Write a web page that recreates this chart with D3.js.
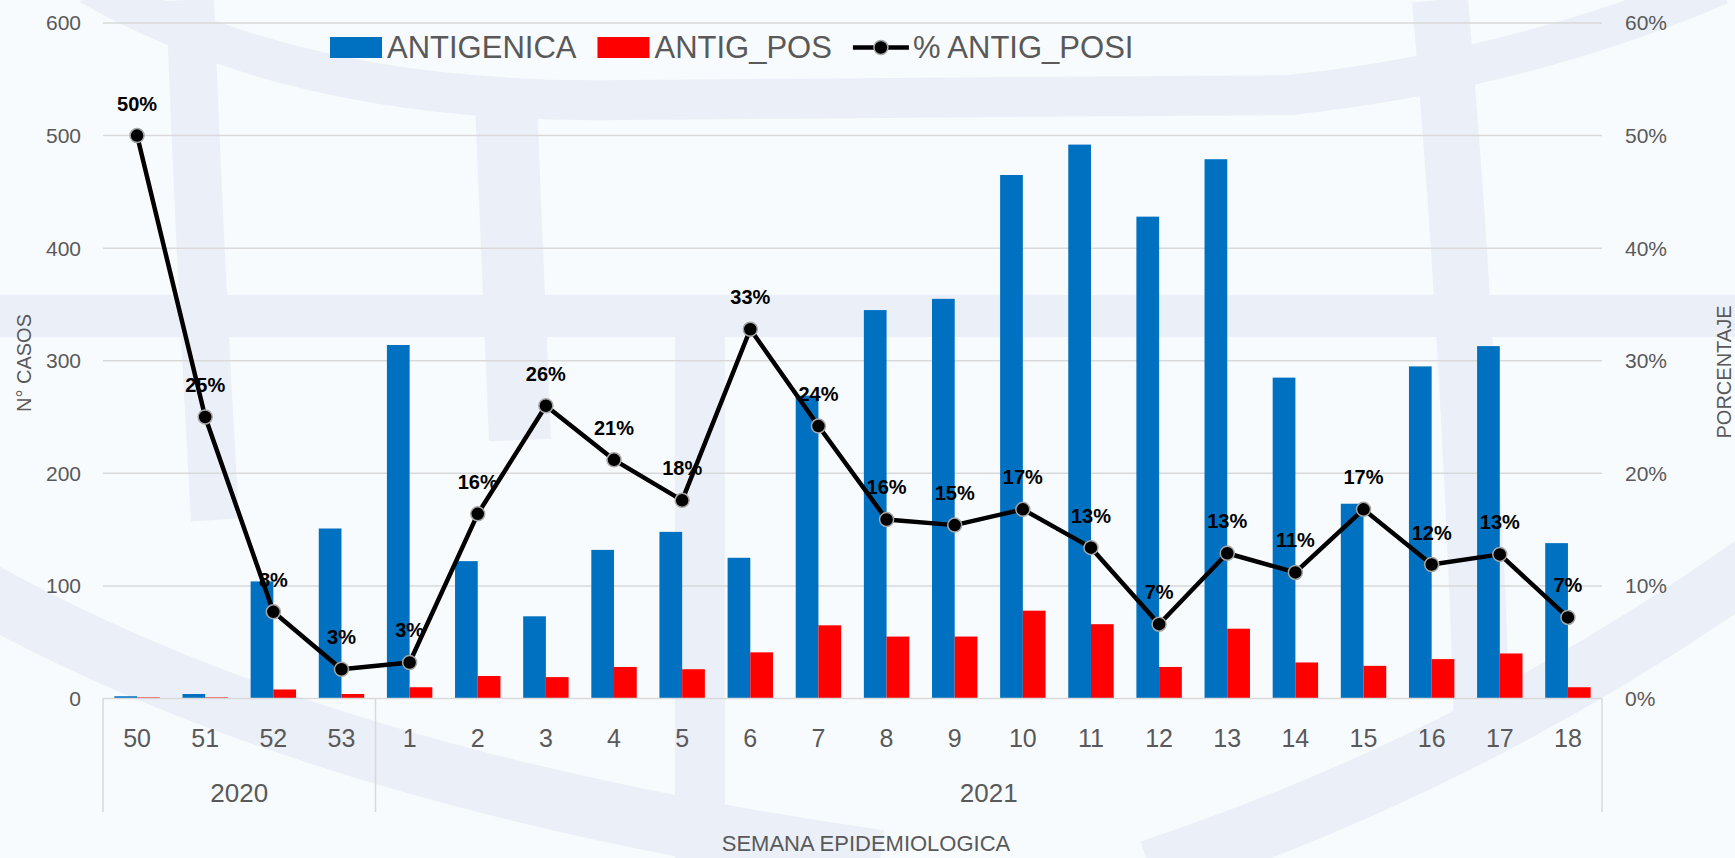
<!DOCTYPE html>
<html>
<head>
<meta charset="utf-8">
<script src="https://cdn.jsdelivr.net/npm/d3@7"></script>
<style>
  html, body { margin: 0; padding: 0; background: #f8fbfd; }
  svg { display: block; font-family: "Liberation Sans", Arial, sans-serif; }
</style>
</head>
<body>
<svg id="chart" width="1735" height="858"></svg>
<script>
// ---- DATA ----
const weeks = ["50","51","52","53","1","2","3","4","5","6","7","8","9","10","11","12","13","14","15","16","17","18"];
const yearLabels = ["2020","2021"];
const yearSpans = [4, 18];
const antigenica = [2,4,104,151,314,122,73,132,148,125,269,345,355,465,492,428,479,285,173,295,313,138];
const antigPos = [1,1,8,4,10,20,19,28,26,41,65,55,55,78,66,28,62,32,29,35,40,10];
const pctPosi = [50,25,7.7,2.6,3.2,16.4,26.0,21.2,17.6,32.8,24.2,15.9,15.4,16.8,13.4,6.6,12.9,11.2,16.8,11.9,12.8,7.2];
const leftTicks = [0,100,200,300,400,500,600];
const rightTicks = [0,0.1,0.2,0.3,0.4,0.5,0.6];
const seriesNames = ["ANTIGENICA","ANTIG_POS","% ANTIG_POSI"];
const seriesColors = ["#0070C0","#FF0000","#000000"];

// ---- LAYOUT ----
const W = 1735, H = 858;
const plot = {left: 103, right: 1602, top: 23, bottom: 698.5};
const textColor = "#595959";
const svg = d3.select("#chart");

// background + faint watermark
svg.append("rect").attr("width", W).attr("height", H).attr("fill", "#f8fbfd");
const wm = svg.append("g").attr("fill", "none").attr("stroke", "#ebf0f8").attr("stroke-width", 48).attr("stroke-linecap", "butt");
wm.append("path").attr("d", "M0,316 L1735,316").attr("stroke-width", 42);
wm.append("path").attr("d", "M190,0 Q200,260 215,520");
wm.append("path").attr("d", "M505,80 Q512,260 520,440").attr("stroke-width", 62);
wm.append("path").attr("d", "M1440,0 Q1470,350 1482,720").attr("stroke-width", 56);
wm.append("path").attr("d", "M90,-15 Q300,105 620,100 L1290,95 Q1520,70 1720,-15").attr("stroke-width", 40);
wm.append("path").attr("d", "M-20,590 Q320,780 880,860").attr("stroke-width", 60);
wm.append("path").attr("d", "M1150,870 Q1480,760 1760,560").attr("stroke-width", 60);
wm.append("path").attr("d", "M700,330 L700,860").attr("stroke-width", 50);

// scales
const x = d3.scaleBand().domain(weeks).range([plot.left, plot.right]).paddingInner(1/3).paddingOuter(1/6);
const xs = d3.scaleBand().domain([0,1]).range([0, x.bandwidth()]);
const yL = d3.scaleLinear().domain([0, 600]).range([plot.bottom, plot.top]);
const yR = d3.scaleLinear().domain([0, 0.6]).range([plot.bottom, plot.top]);
const cx = w => x(w) + x.bandwidth() / 2;

// gridlines
svg.append("g").selectAll("line").data(leftTicks.slice(1)).join("line")
  .attr("x1", plot.left).attr("x2", plot.right)
  .attr("y1", d => yL(d)).attr("y2", d => yL(d))
  .attr("stroke", "#d9d9d9").attr("stroke-width", 1.5);

// left axis labels
svg.append("g").selectAll("text").data(leftTicks).join("text")
  .attr("x", 81).attr("y", d => yL(d)).attr("dy", "0.35em")
  .attr("text-anchor", "end").attr("font-size", 21).attr("fill", textColor)
  .text(d => d3.format("d")(d));

// right axis labels
svg.append("g").selectAll("text").data(rightTicks).join("text")
  .attr("x", 1625).attr("y", d => yR(d)).attr("dy", "0.35em")
  .attr("text-anchor", "start").attr("font-size", 21).attr("fill", textColor)
  .text(d => d3.format(".0%")(d));

// bars
const barG = svg.append("g");
barG.selectAll("rect.b").data(weeks).join("rect").attr("class", "b")
  .attr("x", (w) => x(w) + xs(0)).attr("width", xs.bandwidth())
  .attr("y", (w, i) => yL(antigenica[i])).attr("height", (w, i) => yL(0) - yL(antigenica[i]))
  .attr("fill", seriesColors[0]);
barG.selectAll("rect.r").data(weeks).join("rect").attr("class", "r")
  .attr("x", (w) => x(w) + xs(1)).attr("width", xs.bandwidth())
  .attr("y", (w, i) => yL(antigPos[i])).attr("height", (w, i) => yL(0) - yL(antigPos[i]))
  .attr("fill", seriesColors[1]);

// category axis
const axG = svg.append("g").attr("stroke", "#d9d9d9").attr("stroke-width", 1.5);
axG.append("line").attr("x1", plot.left).attr("x2", plot.right).attr("y1", plot.bottom).attr("y2", plot.bottom);
let acc = 0;
const sepIdx = [0];
yearSpans.forEach(s => { acc += s; sepIdx.push(acc); });
const sepX = k => plot.left + k * (plot.right - plot.left) / weeks.length;
axG.selectAll("line.sep").data(sepIdx).join("line").attr("class", "sep")
  .attr("x1", k => sepX(k)).attr("x2", k => sepX(k))
  .attr("y1", plot.bottom).attr("y2", 812);

svg.append("g").selectAll("text").data(weeks).join("text")
  .attr("x", w => cx(w)).attr("y", 747)
  .attr("text-anchor", "middle").attr("font-size", 25).attr("fill", textColor)
  .text(w => w);

svg.append("g").selectAll("text").data(yearLabels).join("text")
  .attr("x", (d, i) => (sepX(sepIdx[i]) + sepX(sepIdx[i + 1])) / 2).attr("y", 802)
  .attr("text-anchor", "middle").attr("font-size", 26).attr("fill", textColor)
  .text(d => d);

// axis titles
svg.append("text").attr("x", 866).attr("y", 851).attr("text-anchor", "middle")
  .attr("font-size", 22).attr("fill", textColor).text("SEMANA EPIDEMIOLOGICA");
svg.append("text").attr("transform", "translate(24,363) rotate(-90)").attr("text-anchor", "middle")
  .attr("dy", "0.35em").attr("font-size", 20).attr("fill", textColor).text("N° CASOS");
svg.append("text").attr("transform", "translate(1724,372) rotate(-90)").attr("text-anchor", "middle")
  .attr("dy", "0.35em").attr("font-size", 20).attr("fill", textColor).text("PORCENTAJE");

// data labels
svg.append("g").selectAll("text").data(weeks).join("text")
  .attr("x", w => cx(w)).attr("y", (w, i) => yR(pctPosi[i] / 100) - 25)
  .attr("text-anchor", "middle").attr("font-size", 20).attr("font-weight", "bold").attr("fill", "#000")
  .text((w, i) => Math.round(pctPosi[i]) + "%");

// line + markers
const line = d3.line().x((d, i) => cx(weeks[i])).y(d => yR(d / 100));
svg.append("path").datum(pctPosi).attr("d", line)
  .attr("fill", "none").attr("stroke", "#000").attr("stroke-width", 4.5).attr("stroke-linejoin", "round");
svg.append("g").selectAll("circle").data(pctPosi).join("circle")
  .attr("cx", (d, i) => cx(weeks[i])).attr("cy", d => yR(d / 100)).attr("r", 7)
  .attr("fill", "#000").attr("stroke", "#a6a6a6").attr("stroke-width", 1.5);

// legend
const lg = svg.append("g");
let lx = 330;
const ly = 47.5;
seriesNames.forEach((name, i) => {
  if (i < 2) {
    lg.append("rect").attr("x", lx).attr("y", ly - 10.5).attr("width", 52).attr("height", 21).attr("fill", seriesColors[i]);
    lx += 57;
  } else {
    lg.append("line").attr("x1", lx).attr("x2", lx + 56).attr("y1", ly).attr("y2", ly)
      .attr("stroke", "#000").attr("stroke-width", 4.5);
    lg.append("circle").attr("cx", lx + 28).attr("cy", ly).attr("r", 7)
      .attr("fill", "#000").attr("stroke", "#a6a6a6").attr("stroke-width", 1.5);
    lx += 60;
  }
  const t = lg.append("text").attr("x", lx).attr("y", 58).attr("font-size", 31).attr("fill", textColor).text(name);
  lx += t.node().getComputedTextLength() + 21;
});
</script>
</body>
</html>
